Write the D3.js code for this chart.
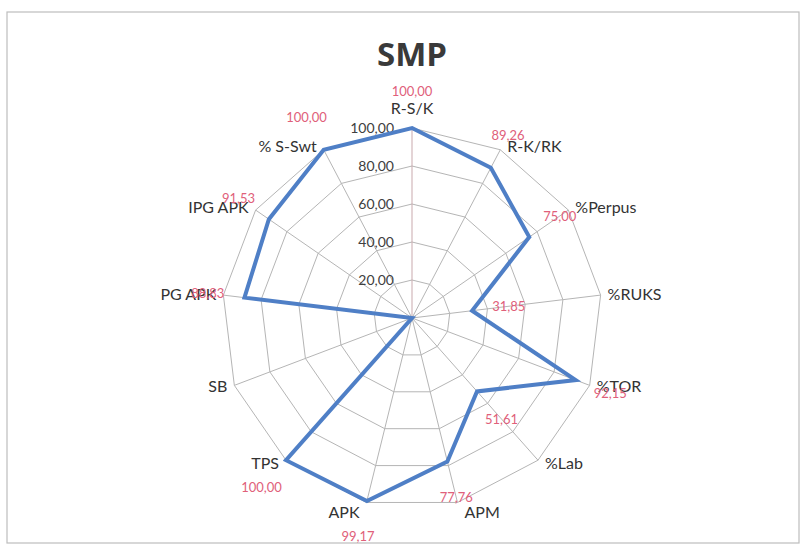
<!DOCTYPE html>
<html>
<head>
<meta charset="utf-8">
<script src="https://cdn.jsdelivr.net/npm/d3@7"></script>
<style>
  html, body { margin: 0; padding: 0; background: #fff; }
  svg { display: block; font-family: Lato, "Open Sans", sans-serif; }
</style>
</head>
<body>
<div id="chart"></div>
<script>
// Data
var categories = ["R-S/K", "R-K/RK", "%Perpus", "%RUKS", "%TOR", "%Lab", "APM",
                  "APK", "TPS", "SB", "PG APK", "IPG APK", "% S-Swt"];
var values = [100, 89.26, 75, 31.85, 92.15, 51.61, 77.76, 99.17, 100, 0, 88.83, 91.53, 100];
var gridTicks = [20, 40, 60, 80, 100];
var title = "SMP";

// Canvas
var width = 802, height = 552;
var cx = 412, cy = 318, radius = 190;

var svg = d3.select("#chart").append("svg")
  .attr("width", width)
  .attr("height", height);

// chart frame
svg.append("rect")
  .attr("x", 7).attr("y", 12)
  .attr("width", 792).attr("height", 531)
  .attr("fill", "#fff")
  .attr("stroke", "#bdbdbd")
  .attr("stroke-width", 1.2);

svg.append("text")
  .attr("x", cx).attr("y", 66)
  .attr("text-anchor", "middle")
  .attr("font-family", "'Open Sans', sans-serif")
  .attr("font-weight", "bold")
  .attr("font-size", 33)
  .attr("fill", "#3a3a3a")
  .text(title);

var g = svg.append("g").attr("transform", "translate(" + cx + "," + cy + ")");

// scales
var r = d3.scaleLinear().domain([0, 100]).range([0, radius]);
var angle = d3.scaleLinear().domain([0, categories.length]).range([0, 2 * Math.PI]);

var fmt = d3.formatLocale({ decimal: ",", thousands: ".", grouping: [3], currency: ["", ""] }).format(".2f");

// rings
var ring = d3.lineRadial()
  .angle(function (d, i) { return angle(i); })
  .curve(d3.curveLinearClosed);

g.selectAll(".ring")
  .data(gridTicks)
  .enter().append("path")
  .attr("class", "ring")
  .attr("d", function (t) { return ring.radius(r(t))(categories); })
  .attr("fill", "none")
  .attr("stroke", "#b5b5b5")
  .attr("stroke-width", 1);

// spokes
function px(i, v) { return Math.sin(angle(i)) * r(v); }
function py(i, v) { return -Math.cos(angle(i)) * r(v); }

g.selectAll(".spoke")
  .data(categories)
  .enter().append("line")
  .attr("class", "spoke")
  .attr("x1", 0).attr("y1", 0)
  .attr("x2", function (d, i) { return px(i, 100); })
  .attr("y2", function (d, i) { return py(i, 100); })
  .attr("stroke", function (d, i) { return i === 0 ? "#c9a9ad" : "#b5b5b5"; })
  .attr("stroke-width", 1);

// tick labels along the top spoke
g.selectAll(".tick")
  .data(gridTicks)
  .enter().append("text")
  .attr("class", "tick")
  .attr("x", -18)
  .attr("y", function (t) { return -r(t); })
  .attr("dy", "0.35em")
  .attr("text-anchor", "end")
  .attr("font-size", 14)
  .attr("fill", "#404040")
  .text(function (t) { return fmt(t); });

// series
var line = d3.lineRadial()
  .angle(function (d, i) { return angle(i); })
  .radius(function (d) { return r(d); })
  .curve(d3.curveLinearClosed);

g.append("path")
  .datum(values)
  .attr("d", line)
  .attr("fill", "none")
  .attr("stroke", "#4f7fc6")
  .attr("stroke-width", 4)
  .attr("stroke-linejoin", "miter");

// category labels
g.selectAll(".cat")
  .data(categories)
  .enter().append("text")
  .attr("class", "cat")
  .each(function (d, i) {
    var s = Math.sin(angle(i)), c = Math.cos(angle(i));
    var x = px(i, 100), y = py(i, 100);
    var anchor = "middle";
    if (Math.abs(s) < 0.01) { y -= 20; }
    else {
      anchor = s > 0 ? "start" : "end";
      x += s > 0 ? 7 : -7;
      y += c < -0.9 ? 10 : -c * 4;
    }
    d3.select(this)
      .attr("x", x).attr("y", y)
      .attr("dy", "0.35em")
      .attr("text-anchor", anchor);
  })
  .attr("font-size", 16)
  .attr("fill", "#333")
  .text(function (d) { return d; });

// value labels (a zero value has no label in the picture)
var labelled = values
  .map(function (v, i) { return { v: v, i: i }; })
  .filter(function (d) { return d.v > 0; });

g.selectAll(".val")
  .data(labelled)
  .enter().append("text")
  .attr("class", "val")
  .attr("x", function (d) { return px(d.i, d.v) + Math.sin(angle(d.i)) * 37; })
  .attr("y", function (d) { return py(d.i, d.v) - Math.cos(angle(d.i)) * 37; })
  .attr("dy", "0.35em")
  .attr("text-anchor", "middle")
  .attr("font-size", 13)
  .attr("fill", "#e0607a")
  .text(function (d) { return fmt(d.v); });
</script>
</body>
</html>
